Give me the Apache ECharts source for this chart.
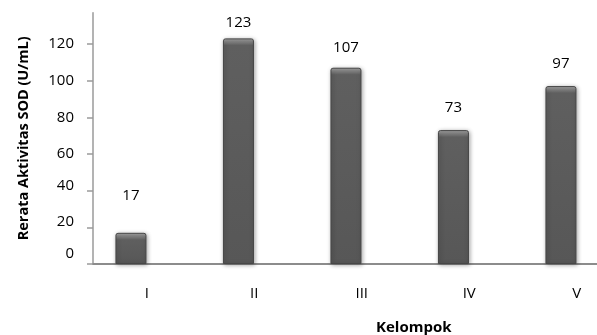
<!DOCTYPE html>
<html>
<head>
<meta charset="utf-8">
<script src="https://cdn.jsdelivr.net/npm/echarts@6/dist/echarts.min.js"></script>
<style>
  html, body { margin: 0; padding: 0; background: #ffffff; }
  #chart { width: 597px; height: 335px; }
</style>
</head>
<body>
<div id="chart"></div>
<script>
// Mean SOD activity per group
const categories = ['I', 'II', 'III', 'IV', 'V'];
const sodValues = [17, 123, 107, 73, 97];
const yTicks = [0, 20, 40, 60, 80, 100, 120];
// distance of each value label above its bar (px)
const labelLift = [30, 8, 12, 15, 15];
// small upward nudges of some tick labels (px)
const tickNudge = { 0: 10, 20: 6, 40: 5 };

const FONT = 'Open Sans';
const TXT = 15;
const chart = echarts.init(document.getElementById('chart'), null, { renderer: 'canvas' });

function barStyle(bevelFrac) {
  const f = Math.min(0.5, bevelFrac);
  return {
    color: new echarts.graphic.LinearGradient(0, 0, 0, 1, [
      { offset: 0, color: '#a8a8a8' },
      { offset: f * 0.45, color: '#858585' },
      { offset: f, color: '#5f5f5f' },
      { offset: 1, color: '#575757' }
    ]),
    borderColor: '#464646',
    borderWidth: 1,
    borderRadius: [2, 2, 0, 0],
    shadowBlur: 4,
    shadowColor: 'rgba(0,0,0,0.35)',
    shadowOffsetX: 1,
    shadowOffsetY: 1
  };
}

function buildData(bevelFracs) {
  return sodValues.map((v, i) => ({
    value: v,
    itemStyle: barStyle(bevelFracs[i]),
    label: { distance: labelLift[i] }
  }));
}

const option = {
  backgroundColor: '#ffffff',
  animation: false,
  grid: {
    left: 93, right: -33.5, top: 12.7, bottom: 71,
    containLabel: false,
    outerBoundsMode: 'none'
  },
  xAxis: {
    type: 'category',
    data: categories,
    name: 'Kelompok',
    nameLocation: 'middle',
    nameGap: 56,
    nameTextStyle: {
      fontFamily: FONT, fontWeight: 'bold', fontSize: 15, color: '#000',
      padding: [0, 0, 0, 104]
    },
    axisLine: { lineStyle: { color: '#8c8c8c', width: 2 } },
    axisTick: { show: false },
    axisLabel: {
      margin: 22,
      fontFamily: FONT, fontSize: TXT, color: '#000'
    }
  },
  yAxis: {
    type: 'value',
    min: 0,
    max: 137,
    name: 'Rerata Aktivitas SOD (U/mL)',
    nameLocation: 'middle',
    nameGap: 62,
    nameRotate: 90,
    nameTextStyle: { fontFamily: FONT, fontWeight: 'bold', fontSize: 14.5, color: '#000' },
    axisLine: { show: true, lineStyle: { color: '#9a9a9a', width: 1.5 } },
    axisTick: { show: true, length: 6, customValues: yTicks, lineStyle: { color: '#9a9a9a', width: 1.5 } },
    splitLine: { show: false },
    axisLabel: {
      customValues: yTicks,
      margin: 19,
      fontFamily: FONT, fontSize: TXT, color: '#000',
      formatter: function (v) {
        const n = tickNudge[v];
        return n ? '{s' + n + '|' + v + '}' : String(v);
      },
      rich: {
        s10: { fontFamily: FONT, fontSize: TXT, color: '#000', padding: [0, 0, 20, 0] },
        s6: { fontFamily: FONT, fontSize: TXT, color: '#000', padding: [0, 0, 12, 0] },
        s5: { fontFamily: FONT, fontSize: TXT, color: '#000', padding: [0, 0, 10, 0] }
      }
    }
  },
  series: [
    {
      name: 'SOD',
      type: 'bar',
      barWidth: 31,
      barGap: '2%',
      data: buildData(sodValues.map(() => 0.1)),
      label: {
        show: true,
        position: 'top',
        fontFamily: FONT,
        fontSize: TXT,
        color: '#000'
      }
    },
    {
      // empty companion series: keeps the bars set to the left of each category slot
      name: 'depth',
      type: 'bar',
      barWidth: 31,
      data: [],
      silent: true
    }
  ]
};

chart.setOption(option);

// bevel height of each bar top is a fixed number of pixels, so convert to a fraction per bar
const zeroPx = chart.convertToPixel({ yAxisIndex: 0 }, 0);
const fracs = sodValues.map(v => {
  const h = zeroPx - chart.convertToPixel({ yAxisIndex: 0 }, v);
  return h > 0 ? 7 / h : 0.5;
});
chart.setOption({ series: [{ data: buildData(fracs) }] });
</script>
</body>
</html>
